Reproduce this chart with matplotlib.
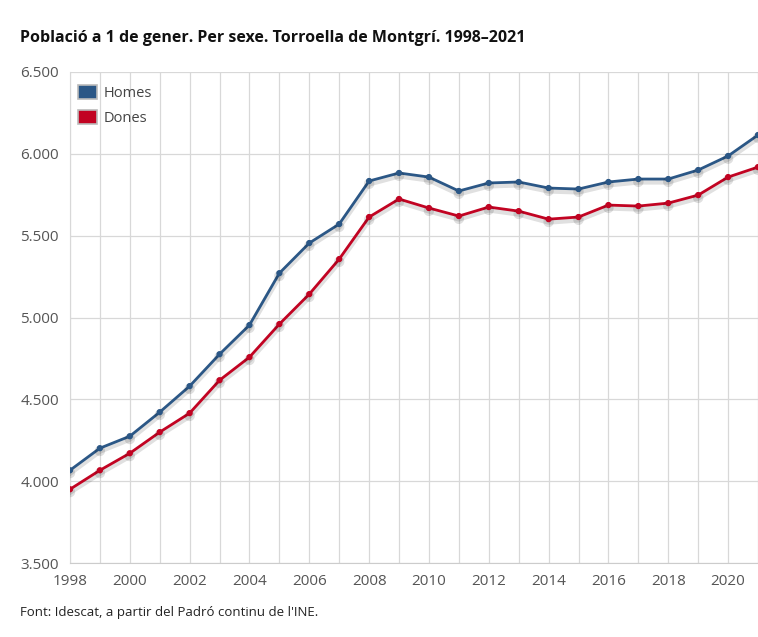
import matplotlib.pyplot as plt
import matplotlib.patheffects as pe
from matplotlib.patches import Patch
from matplotlib.ticker import FuncFormatter

plt.rcParams['font.family'] = ['Open Sans', 'DejaVu Sans']

years = list(range(1998, 2022))
homes = [4067, 4202, 4275, 4422, 4581, 4776, 4954, 5271, 5455, 5571, 5834, 5883,
         5858, 5773, 5822, 5828, 5791, 5785, 5828, 5846, 5846, 5901, 5987, 6115]
dones = [3951, 4067, 4171, 4300, 4416, 4617, 4758, 4960, 5143, 5357, 5614, 5724,
         5669, 5620, 5675, 5650, 5601, 5614, 5687, 5681, 5699, 5748, 5858, 5919]
yticks = [3500, 4000, 4500, 5000, 5500, 6000, 6500]
xticks = list(range(1998, 2022, 2))

C_HOMES = '#2b5786'
C_DONES = '#c20322'

fig = plt.figure(figsize=(7.58, 6.37), dpi=100)
ax = fig.add_axes([0.0923, 0.116, 0.9077, 0.771])

shadow = [pe.SimpleLineShadow(offset=(0, -2), shadow_color='k', alpha=0.12, linewidth=4),
          pe.Normal()]
for vals, col in ((homes, C_HOMES), (dones, C_DONES)):
    ax.plot(years, vals, '-o', color=col, lw=2, ms=3.5, zorder=3,
            path_effects=shadow)

ax.set_xlim(1998, 2021)
ax.set_ylim(3500, 6500)
ax.set_yticks(yticks)
ax.set_xticks(xticks)
ax.set_xticks(years, minor=True)
ax.yaxis.set_major_formatter(FuncFormatter(lambda v, p: f'{int(v):,}'.replace(',', '.')))
ax.grid(True, which='both', axis='x', color='#d8d8d8', lw=0.9)
ax.grid(True, which='major', axis='y', color='#d8d8d8', lw=0.9)
ax.set_axisbelow(True)
for s in ('top', 'right'):
    ax.spines[s].set_visible(False)
ax.spines['left'].set_color('#d8d8d8')
ax.spines['bottom'].set_color('#cccccc')
ax.tick_params(which='both', length=0, labelsize=11, colors='#555555')
ax.tick_params(axis='x', pad=8)
ax.tick_params(axis='y', pad=8)

handles = [Patch(facecolor=C_HOMES, edgecolor='#bbbbbb', lw=1.2, label='Homes'),
           Patch(facecolor=C_DONES, edgecolor='#bbbbbb', lw=1.2, label='Dones')]
leg = ax.legend(handles=handles, loc='upper left', bbox_to_anchor=(-0.008, 1.0),
                frameon=False, fontsize=10.5, handlelength=1.3, handleheight=1.1,
                handletextpad=0.5, labelspacing=0.6, labelcolor='#444444')

fig.text(0.026, 0.94, 'Població a 1 de gener. Per sexe. Torroella de Montgrí. 1998–2021',
         fontsize=11.5, fontweight='bold', color='#111111', va='center')
fig.text(0.026, 0.038, "Font: Idescat, a partir del Padró continu de l'INE.",
         fontsize=9.5, color='#222222', va='center')

fig.savefig('out.png', dpi=100)
